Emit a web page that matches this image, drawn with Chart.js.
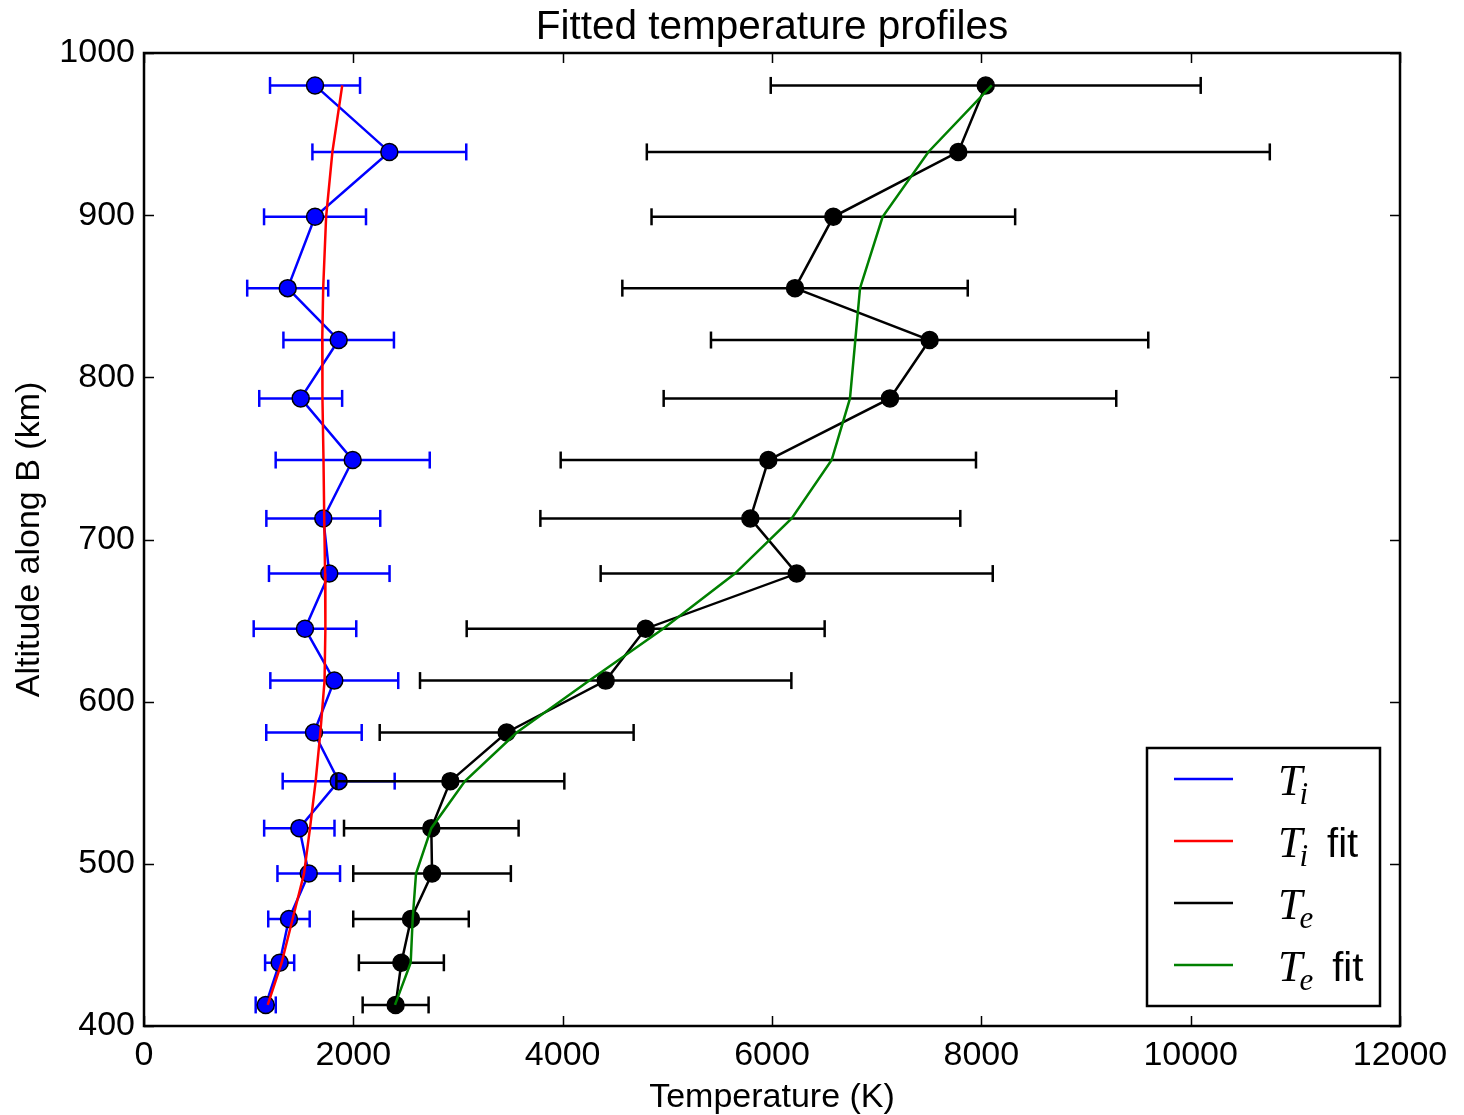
<!DOCTYPE html>
<html>
<head>
<meta charset="utf-8">
<script src="https://cdn.jsdelivr.net/npm/chart.js@4.4.1/dist/chart.umd.min.js"></script>
<style>
  html, body { margin: 0; padding: 0; background: #fff; }
  #wrap { width: 1464px; height: 1115px; }
</style>
</head>
<body>
<div id="wrap"><canvas id="chart" width="1464" height="1115"></canvas></div>
<script>
// altitude along B (km), one row per measurement
const altitude = [980, 939, 899, 855, 823, 787, 749, 713, 679, 645, 613, 581, 551, 522, 494, 466, 439, 413];

// ion temperature (K) with errors and fit
const tiValues = [1634, 2344, 1634, 1373, 1860, 1497, 1994, 1713, 1770, 1538, 1818, 1624, 1860, 1484, 1574, 1385, 1296, 1163];
const tiErrors = [430, 735, 487, 387, 528, 396, 736, 544, 576, 490, 611, 456, 535, 336, 299, 198, 139, 96];
const tiFit = [1894, 1800, 1740, 1712, 1703, 1705, 1715, 1722, 1730, 1733, 1725, 1685, 1640, 1586, 1529, 1420, 1315, 1182];

// electron temperature (K) with errors and fit
const teValues = [8042, 7780, 6586, 6220, 7506, 7127, 5965, 5793, 6236, 4793, 4411, 3465, 2927, 2745, 2752, 2551, 2459, 2404];
const teErrors = [2054, 2976, 1737, 1650, 2089, 2162, 1984, 2006, 1873, 1710, 1774, 1213, 1089, 834, 753, 552, 406, 315];
const teFit = [8100, 7494, 7057, 6841, 6796, 6745, 6570, 6188, 5646, 4960, 4255, 3561, 3067, 2745, 2599, 2567, 2548, 2398];

const xTicks = [0, 2000, 4000, 6000, 8000, 10000, 12000];
const yTicks = [400, 500, 600, 700, 800, 900, 1000];

const titleText = 'Fitted temperature profiles';

const legendItems = [
  { sym: 'T', sub: 'i', extra: '', color: '#0000ff' },
  { sym: 'T', sub: 'i', extra: 'fit', color: '#ff0000' },
  { sym: 'T', sub: 'e', extra: '', color: '#000000' },
  { sym: 'T', sub: 'e', extra: 'fit', color: '#008000' }
];

const SANS = '"Liberation Sans", Arial, sans-serif';
const SERIF = '"Liberation Serif", "Times New Roman", serif';

let toPoints = (xs) => xs.map((x, i) => ({ x, y: altitude[i] }));

function errorBarSets(values, errors, color, order) {
  return values.map((v, i) => ({
    data: [{ x: v - errors[i], y: altitude[i] }, { x: v + errors[i], y: altitude[i] }],
    showLine: true,
    borderColor: color,
    borderWidth: 2.5,
    pointStyle: 'line',
    rotation: 90,
    pointRadius: 8.5,
    pointBorderWidth: 2.5,
    pointBorderColor: color,
    pointBackgroundColor: color,
    order
  }));
}

/*
  ==================================================
  ================== PLUGINS ==================
  ==================================================
*/

// box around the axes with inward ticks on all four sides
const frameTicks = {
  id: 'frameTicks',
  afterDatasetsDraw(chart) {
    let { ctx, chartArea: a, scales: { x, y } } = chart;
    ctx.save();
    ctx.strokeStyle = '#000';
    ctx.lineWidth = 1.5;
    ctx.beginPath();
    xTicks.forEach(v => {
      let px = Math.round(x.getPixelForValue(v)) + 0.5;
      ctx.moveTo(px, a.bottom); ctx.lineTo(px, a.bottom - 10);
      ctx.moveTo(px, a.top); ctx.lineTo(px, a.top + 10);
    });
    yTicks.forEach(v => {
      let py = Math.round(y.getPixelForValue(v)) + 0.5;
      ctx.moveTo(a.left, py); ctx.lineTo(a.left + 10, py);
      ctx.moveTo(a.right, py); ctx.lineTo(a.right - 10, py);
    });
    ctx.stroke();
    ctx.lineWidth = 2.5;
    ctx.strokeRect(a.left, a.top, a.right - a.left, a.bottom - a.top);

    // title centred over the axes box
    ctx.fillStyle = '#000';
    ctx.font = '40.5px ' + SANS;
    ctx.textAlign = 'center';
    ctx.textBaseline = 'alphabetic';
    ctx.fillText(titleText, (a.left + a.right) / 2, a.top - 14);
    ctx.restore();
  }
};

// legend with math style labels (T with subscript)
const mathLegend = {
  id: 'mathLegend',
  afterDraw(chart) {
    let { ctx, chartArea: a } = chart;
    let w = 233, h = 258;
    let left = a.right - 20 - w, top = a.bottom - 20 - h;
    ctx.save();
    ctx.fillStyle = '#fff';
    ctx.fillRect(left, top, w, h);
    ctx.strokeStyle = '#000';
    ctx.lineWidth = 2.5;
    ctx.strokeRect(left, top, w, h);

    legendItems.forEach((item, i) => {
      let ly = top + 31 + i * 62;
      ctx.strokeStyle = item.color;
      ctx.lineWidth = 2.5;
      ctx.beginPath();
      ctx.moveTo(left + 27, ly);
      ctx.lineTo(left + 86, ly);
      ctx.stroke();

      ctx.fillStyle = '#000';
      ctx.textBaseline = 'alphabetic';
      ctx.textAlign = 'left';
      let tx = left + 131;
      ctx.font = 'italic 44px ' + SERIF;
      ctx.fillText(item.sym, tx, ly + 16);
      let sx = tx + ctx.measureText(item.sym).width - 3;
      ctx.font = 'italic 31px ' + SERIF;
      ctx.fillText(item.sub, sx, ly + 25);
      let ex = sx + ctx.measureText(item.sub).width + 19;
      if (item.extra) {
        ctx.font = '40px ' + SANS;
        ctx.fillText(item.extra, ex, ly + 16);
      }
    });
    ctx.restore();
  }
};

/*
  ==================================================
  =================== CHART ===================
  ==================================================
*/

const datasets = [
  { data: toPoints(teFit), showLine: true, borderColor: '#008000', borderWidth: 2.5, pointRadius: 0, order: 0 },
  {
    data: toPoints(teValues), showLine: true, borderColor: '#000', borderWidth: 2.5,
    pointRadius: 8.5, pointBackgroundColor: '#000', pointBorderColor: '#000', pointBorderWidth: 1.5, order: 1
  },
  ...errorBarSets(teValues, teErrors, '#000', 2),
  { data: toPoints(tiFit), showLine: true, borderColor: '#ff0000', borderWidth: 2.5, pointRadius: 0, order: 3 },
  {
    data: toPoints(tiValues), showLine: true, borderColor: '#0000ff', borderWidth: 2.5,
    pointRadius: 8.5, pointBackgroundColor: '#0000ff', pointBorderColor: '#000', pointBorderWidth: 1.5, order: 4
  },
  ...errorBarSets(tiValues, tiErrors, '#0000ff', 5)
];

new Chart(document.getElementById('chart').getContext('2d'), {
  type: 'scatter',
  data: { datasets },
  plugins: [frameTicks, mathLegend],
  options: {
    responsive: false,
    devicePixelRatio: 1,
    animation: false,
    events: [],
    layout: { padding: { top: 53, right: 64, bottom: 0, left: 0 } },
    plugins: {
      legend: { display: false },
      tooltip: { enabled: false },
      title: { display: false }
    },
    scales: {
      x: {
        type: 'linear',
        min: 0,
        max: 12000,
        afterBuildTicks: scale => { scale.ticks = xTicks.map(value => ({ value })); },
        afterFit: scale => { scale.height = 89; },
        grid: { display: false },
        border: { display: false },
        ticks: {
          color: '#000',
          autoSkip: false,
          maxRotation: 0,
          padding: 1,
          font: { family: SANS, size: 34 },
          callback: v => String(v)
        },
        title: {
          display: true,
          text: 'Temperature (K)',
          color: '#000',
          font: { family: SANS, size: 34 },
          padding: { top: 0, bottom: -3 }
        }
      },
      y: {
        type: 'linear',
        min: 400,
        max: 1000,
        afterBuildTicks: scale => { scale.ticks = yTicks.map(value => ({ value })); },
        afterFit: scale => { scale.width = 144; },
        grid: { display: false },
        border: { display: false },
        ticks: {
          color: '#000',
          autoSkip: false,
          padding: 1,
          font: { family: SANS, size: 34 },
          callback: v => String(v)
        },
        title: {
          display: true,
          text: 'Altitude along B (km)',
          color: '#000',
          font: { family: SANS, size: 34 },
          padding: { top: 9, bottom: 0 }
        }
      }
    }
  }
});
</script>
</body>
</html>
